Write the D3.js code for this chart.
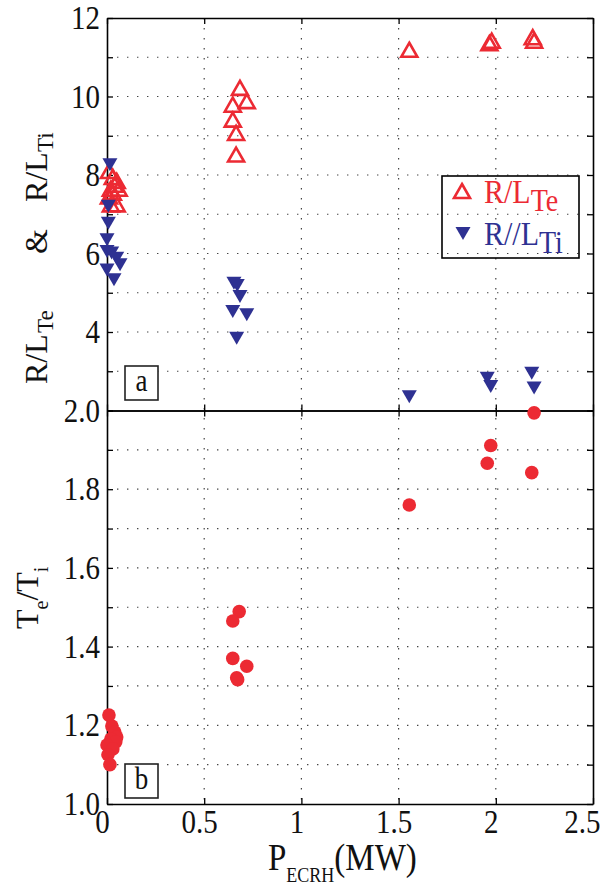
<!DOCTYPE html>
<html>
<head>
<meta charset="utf-8">
<script src="https://cdn.jsdelivr.net/npm/d3@7"></script>
<style>
body { margin: 0; background: #fff; }
text { font-family: "Liberation Serif", "Times New Roman", serif; fill: #111; }
</style>
</head>
<body>
<script>
// R/L_Te (open red triangles)
var teX = [0.01, 0.03, 0.05, 0.02, 0.04, 0.06, 0.01, 0.03, 0.02, 0.05,
           0.684, 0.719, 0.647, 0.647, 0.664, 0.664,
           1.555, 1.967, 1.979, 2.19, 2.197];
var teY = [8.05, 7.9, 7.8, 7.6, 7.7, 7.6, 7.4, 7.5, 7.2, 7.2,
           10.17, 9.83, 9.74, 9.36, 9.02, 8.47,
           11.14, 11.31, 11.37, 11.46, 11.37];
// R/L_Ti (filled blue inverted triangles)
var tiX = [0.015, 0.007, 0.007, 0.0, 0.0, 0.024, 0.05, 0.067, 0.0, 0.036,
           0.653, 0.67, 0.684, 0.647, 0.719, 0.667,
           1.555, 1.956, 1.974, 2.185, 2.197];
var tiY = [8.3, 7.24, 6.81, 6.39, 6.09, 6.05, 5.92, 5.75, 5.62, 5.37,
           5.28, 5.22, 4.94, 4.56, 4.48, 3.88,
           2.39, 2.86, 2.65, 2.99, 2.61];
// Te/Ti (filled red circles)
var ratioX = [0.01, 0.025, 0.04, 0.05, 0.02, 0.045, 0.0, 0.03, 0.005, 0.015,
              0.68, 0.647, 0.647, 0.719, 0.667, 0.672,
              1.555, 1.956, 1.974, 2.185, 2.197];
var ratioY = [1.226, 1.198, 1.183, 1.17, 1.165, 1.158, 1.15, 1.14, 1.125, 1.10,
              1.489, 1.465, 1.370, 1.350, 1.321, 1.316,
              1.76, 1.866, 1.911, 1.842, 1.994];

var xTicks = [0, 0.5, 1, 1.5, 2, 2.5];
var xTickLabels = ["0", "0.5", "1", "1.5", "2", "2.5"];
var gradTicks = [2, 3, 4, 5, 6, 7, 8, 9, 10, 11, 12];
var gradLabels = ["", "", "4", "", "6", "", "8", "", "10", "", "12"];
var ratioTicks = [1.0, 1.1, 1.2, 1.3, 1.4, 1.5, 1.6, 1.7, 1.8, 1.9, 2.0];
var ratioLabels = ["1.0", "", "1.2", "", "1.4", "", "1.6", "", "1.8", "", "2.0"];

var red = "#ec2a33", blue = "#2e3192";
var serif = "'Liberation Serif', 'Times New Roman', serif";

// plot frame (pixels)
var plotL = 107, plotR = 593, plotT = 18, plotM = 410.5, plotB = 804;
var stretch = "scale(1,1.15)";

var svg = d3.select("body").append("svg")
    .attr("width", 602)
    .attr("height", 886)
    .style("font-family", serif);

var x = d3.scaleLinear().domain([0, 2.5]).range([plotL, plotR]);
var yGrad = d3.scaleLinear().domain([2, 12]).range([plotM, plotT]);
var yRatio = d3.scaleLinear().domain([1, 2]).range([plotB, plotM]);

// dotted grid
var grid = svg.append("g")
    .attr("stroke", "#444")
    .attr("stroke-width", 1.2)
    .attr("stroke-dasharray", "1.4,8.6");
grid.selectAll(".gv")
    .data(xTicks.slice(1, -1))
    .enter().append("line")
    .attr("x1", function(d) { return x(d); })
    .attr("x2", function(d) { return x(d); })
    .attr("y1", plotT).attr("y2", plotB);
grid.selectAll(".gg")
    .data(gradTicks.slice(1, -1))
    .enter().append("line")
    .attr("x1", plotL).attr("x2", plotR)
    .attr("y1", function(d) { return yGrad(d); })
    .attr("y2", function(d) { return yGrad(d); });
grid.selectAll(".gr")
    .data(ratioTicks.slice(1, -1))
    .enter().append("line")
    .attr("x1", plotL).attr("x2", plotR)
    .attr("y1", function(d) { return yRatio(d); })
    .attr("y2", function(d) { return yRatio(d); });

// axes
function styleAxis(g) {
    g.attr("font-family", null).attr("font-size", null);
    g.select(".domain").attr("stroke", "#000").attr("stroke-width", 1.6);
    g.selectAll(".tick line").attr("stroke", "#000").attr("stroke-width", 1.3);
    g.selectAll(".tick text")
        .style("font-family", serif)
        .style("font-size", "29px")
        .attr("fill", "#111")
        .attr("transform", stretch);
}

svg.append("g")
    .attr("transform", "translate(" + plotL + ",0)")
    .call(d3.axisLeft(yGrad).tickValues(gradTicks).tickSizeInner(-6).tickSizeOuter(0).tickPadding(7)
        .tickFormat(function(d, i) { return gradLabels[i]; }))
    .call(styleAxis);
svg.append("g")
    .attr("transform", "translate(" + plotR + ",0)")
    .call(d3.axisRight(yGrad).tickValues(gradTicks).tickSizeInner(-6).tickSizeOuter(0).tickFormat(""))
    .call(styleAxis);
svg.append("g")
    .attr("transform", "translate(" + plotL + ",0)")
    .call(d3.axisLeft(yRatio).tickValues(ratioTicks).tickSizeInner(-6).tickSizeOuter(0).tickPadding(7)
        .tickFormat(function(d, i) { return ratioLabels[i]; }))
    .call(styleAxis);
svg.append("g")
    .attr("transform", "translate(" + plotR + ",0)")
    .call(d3.axisRight(yRatio).tickValues(ratioTicks).tickSizeInner(-6).tickSizeOuter(0).tickFormat(""))
    .call(styleAxis);
svg.append("g")
    .attr("transform", "translate(0," + plotT + ")")
    .call(d3.axisTop(x).tickValues(xTicks).tickSizeInner(-6).tickSizeOuter(0).tickFormat(""))
    .call(styleAxis);
svg.append("g")
    .attr("transform", "translate(0," + plotM + ")")
    .call(d3.axisBottom(x).tickValues(xTicks).tickSizeInner(-6).tickSizeOuter(0).tickFormat(""))
    .call(styleAxis);
svg.append("g")
    .attr("transform", "translate(0," + plotM + ")")
    .call(d3.axisTop(x).tickValues(xTicks).tickSizeInner(-6).tickSizeOuter(0).tickFormat(""))
    .call(styleAxis);
var xAxisG = svg.append("g")
    .attr("transform", "translate(0," + plotB + ")")
    .call(d3.axisBottom(x).tickValues(xTicks).tickSizeInner(-6).tickSizeOuter(0).tickPadding(5)
        .tickFormat(function(d, i) { return xTickLabels[i]; }))
    .call(styleAxis);
xAxisG.selectAll(".tick text")
    .attr("dy", "0.7em")
    .attr("x", function(d, i) { return i === xTicks.length - 1 ? 7 : -5; })
    .attr("text-anchor", function(d, i) { return i === xTicks.length - 1 ? "end" : "middle"; });

// markers
var triUp = "M0,-9L8,5L-8,5Z";
var triDown = "M-7.5,-5L7.5,-5L0,8Z";

svg.append("g").selectAll("path")
    .data(teX)
    .enter().append("path")
    .attr("d", triUp)
    .attr("transform", function(d, i) { return "translate(" + x(d) + "," + yGrad(teY[i]) + ")"; })
    .attr("fill", "none")
    .attr("stroke", red)
    .attr("stroke-width", 2.6);

svg.append("g").selectAll("path")
    .data(tiX)
    .enter().append("path")
    .attr("d", triDown)
    .attr("transform", function(d, i) { return "translate(" + x(d) + "," + yGrad(tiY[i]) + ")"; })
    .attr("fill", blue);

svg.append("g").selectAll("circle")
    .data(ratioX)
    .enter().append("circle")
    .attr("cx", function(d) { return x(d); })
    .attr("cy", function(d, i) { return yRatio(ratioY[i]); })
    .attr("r", 6.8)
    .attr("fill", red);

// legend (transparent box)
var lg = svg.append("g");
lg.append("rect")
    .attr("x", 442).attr("y", 176).attr("width", 137).attr("height", 82)
    .attr("fill", "none").attr("stroke", "#000").attr("stroke-width", 1.6);
lg.append("path").attr("d", triUp)
    .attr("transform", "translate(462,193)")
    .attr("fill", "none").attr("stroke", red).attr("stroke-width", 2.6);
lg.append("path").attr("d", triDown)
    .attr("transform", "translate(463,232)")
    .attr("fill", blue);
var l1 = lg.append("g").attr("transform", "translate(484,203) " + stretch)
    .append("text").style("fill", red);
l1.append("tspan").attr("font-size", 30).text("R/L");
l1.append("tspan").attr("font-size", 28).attr("dy", 7).text("Te");
var l2 = lg.append("g").attr("transform", "translate(484,245) " + stretch)
    .append("text").style("fill", blue);
l2.append("tspan").attr("font-size", 30).text("R//L");
l2.append("tspan").attr("font-size", 28).attr("dy", 7).text("Ti");

// panel tags
[["a", 366], ["b", 764]].forEach(function(p) {
    svg.append("rect")
        .attr("x", 125).attr("y", p[1]).attr("width", 33).attr("height", 34)
        .attr("fill", "#fff").attr("stroke", "#222").attr("stroke-width", 1.6);
    svg.append("g").attr("transform", "translate(141.5," + (p[1] + 25) + ") " + stretch)
        .append("text").attr("text-anchor", "middle").attr("font-size", 27).text(p[0]);
});

// y labels
var yl1 = svg.append("text").attr("transform", "translate(47,0) rotate(-90)");
yl1.append("tspan").attr("x", -384).attr("y", 0).attr("font-size", 32).text("R/L");
yl1.append("tspan").attr("x", -333).attr("y", 6).attr("font-size", 23).text("Te");
yl1.append("tspan").attr("x", -254).attr("y", 0).attr("font-size", 32).text("&");
yl1.append("tspan").attr("x", -202).attr("y", 0).attr("font-size", 32).text("R/L");
yl1.append("tspan").attr("x", -152).attr("y", 6).attr("font-size", 23).text("Ti");

var yl2 = svg.append("text").attr("transform", "translate(38,0) rotate(-90)");
yl2.append("tspan").attr("x", -629).attr("y", 0).attr("font-size", 32).text("T");
yl2.append("tspan").attr("y", 10).attr("font-size", 20).text("e");
yl2.append("tspan").attr("y", 0).attr("font-size", 32).text("/T");
yl2.append("tspan").attr("y", 10).attr("font-size", 20).text("i");

// x label
var xl = svg.append("g").attr("transform", "translate(268,870) " + stretch).append("text");
xl.append("tspan").attr("font-size", 33).text("P");
xl.append("tspan").attr("font-size", 18).attr("dy", 10).text("ECRH");
xl.append("tspan").attr("font-size", 33).attr("dy", -10).text("(MW)");
</script>
</body>
</html>
